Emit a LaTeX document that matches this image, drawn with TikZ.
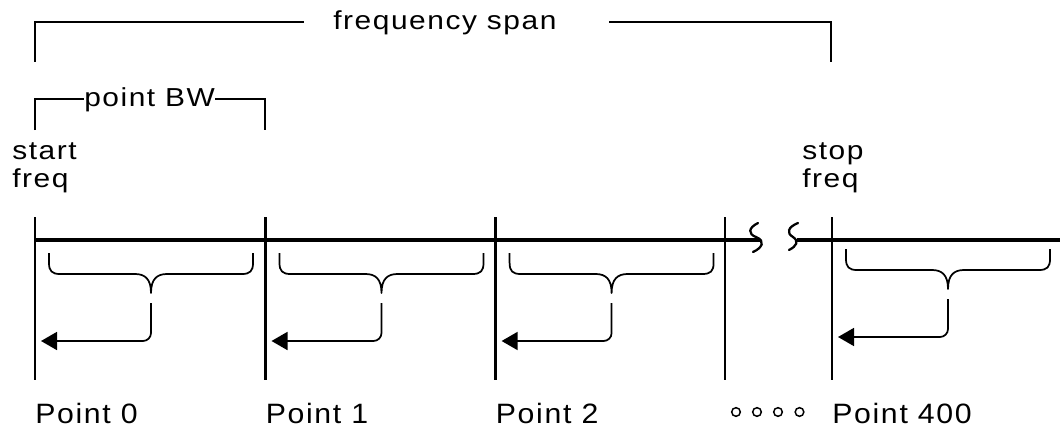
\documentclass[tikz,border=0pt]{standalone}
\usepackage{fontspec}
\setmainfont{Liberation Sans}
\newfontfamily\smallplot[FakeStretch=1.15,LetterSpace=6]{Liberation Sans}
\newfontfamily\bigplot[FakeStretch=1.08,LetterSpace=6]{Liberation Sans}
\usetikzlibrary{arrows.meta}
\begin{document}
\begin{tikzpicture}[x=0.75pt,y=-0.75pt,
  lbl/.style={inner sep=0pt,anchor=base west,font=\smallplot\fontsize{19.5}{22}\selectfont},
  ptlbl/.style={inner sep=0pt,anchor=base west,font=\bigplot\fontsize{21}{23}\selectfont},
  bracket/.style={line width=1.3pt},
  axisline/.style={line width=2.4pt},
  marker/.style={line width=2pt},
  breakmark/.style={line width=1.7pt,line cap=round},
  bracepath/.style={line width=1.3pt,line join=round},
  pointer/.style={line width=1.3pt,rounded corners=6pt,-{Triangle[length=12pt,width=13.5pt]}},
  dotmark/.style={line width=1.1pt}]
\useasboundingbox (0,0) rectangle (1060,428);

% frequency span bracket
\node[lbl] (span) at (333,30) {frequency span};
\coordinate (fsL) at (35,62);
\coordinate (fsR) at (831,62);
\draw[bracket] (fsL) -- (35,22) -- (304,22);
\draw[bracket] (609,22) -- (831,22) -- (fsR);

% point BW bracket
\node[lbl] (bw) at (84,107) {point BW};
\draw[bracket] (35,130) -- (35,99) -- (bw.west |- 0,99);
\draw[bracket] (bw.east |- 0,99) -- (265,99) -- (265,130);

% start / stop labels
\node[lbl] (start) at (12,159) {start};
\node[lbl] (startf) at (12,187) {freq};
\node[lbl] (stop) at (802,159) {stop};
\node[lbl] (stopf) at (802,187) {freq};

% axis with break
\coordinate (axL) at (35,240);
\coordinate (axB1) at (760,240);
\coordinate (axB2) at (797,240);
\coordinate (axR) at (1060,240);
\draw[axisline] (axL) -- (axB1);
\draw[axisline] (axB2) -- (axR);
\draw[breakmark] (758,223) .. controls (748,228) and (748,234) .. (756,237) .. controls (766,241) and (762,248) .. (753,252);
\draw[breakmark] (798,223) .. controls (788,227) and (786,233) .. (793,237) .. controls (799,241) and (797,246) .. (789,250);

% extra vertical before the break
\draw[marker] (725,217) coordinate (vx top) -- (725,380) coordinate (vx bot);

% points
\foreach \v/\d/\name/\txt in {35/0/p0/Point 0, 265.5/0/p1/Point 1, 495.6/0/p2/Point 2, 832/-4/p400/Point 400}{
  \draw[marker] (\v,217) coordinate (\name top) -- (\v,380) coordinate (\name bot);
  \draw[bracepath] (\v+14,253+\d) -- (\v+14,263+\d)
     .. controls (\v+14,271+\d) and (\v+17,274+\d) .. (\v+25,274+\d)
     -- (\v+100,274+\d)
     .. controls (\v+110,274+\d) and (\v+116,279+\d) .. (\v+116,293+\d) coordinate (\name tip)
     .. controls (\v+116,279+\d) and (\v+122,274+\d) .. (\v+132,274+\d)
     -- (\v+207,274+\d)
     .. controls (\v+215,274+\d) and (\v+218,271+\d) .. (\v+218,263+\d)
     -- (\v+218,253+\d);
  \coordinate (\name stem) at (\v+116,303+\d);
  \coordinate (\name arr) at (\v+6,341+\d);
  \draw[pointer] (\name stem) -- (\name stem |- \name arr) -- (\name arr);
  \node[ptlbl] (\name lbl) at (\v,423) {\txt};
}

% continuation dots
\foreach \x/\n in {736/a,757/b,778/c,799.5/d}{
  \node[circle,draw,dotmark,minimum size=6.5pt,inner sep=0pt] (dot\n) at (\x,412) {};
}
\end{tikzpicture}
\end{document}
